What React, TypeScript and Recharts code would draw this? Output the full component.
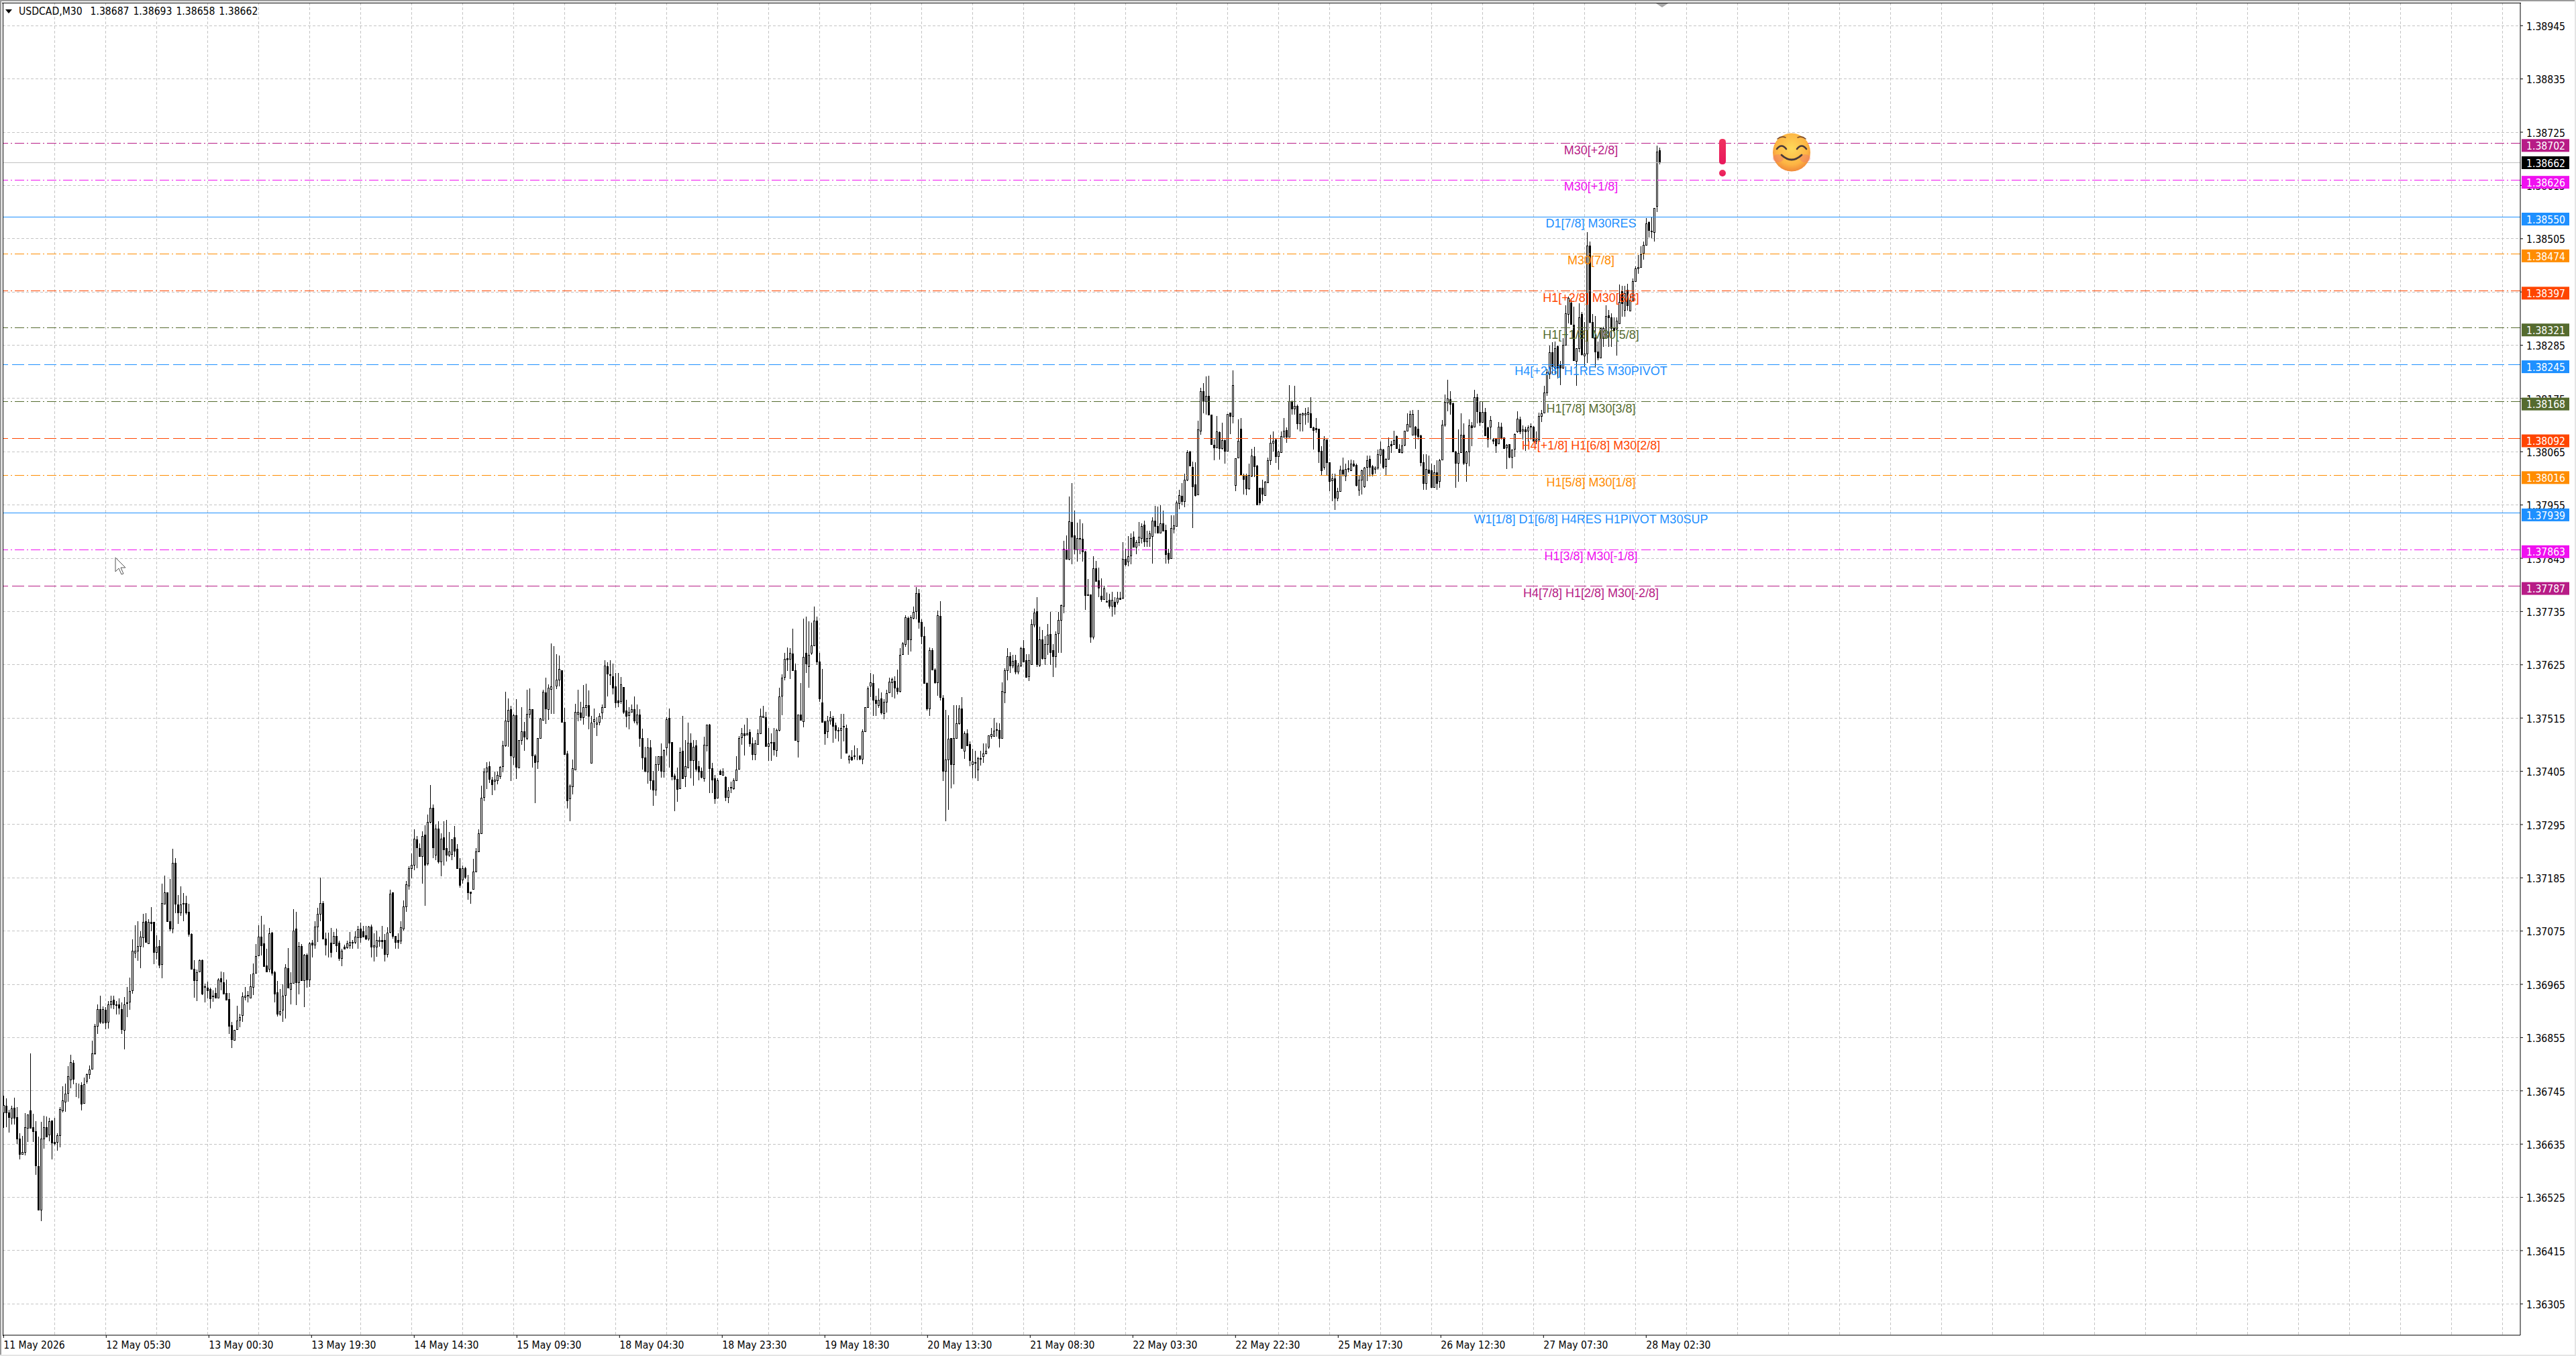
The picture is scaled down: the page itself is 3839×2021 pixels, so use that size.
import React from "react";
import { ComposedChart, Bar, XAxis, YAxis, CartesianGrid, ReferenceLine } from "recharts";

// Candles: [open, high, low, close] in points above 1.36000
const may11: number[][] = [[700,735,669,715],[714,730,670,701],[700,706,659,690],[689,714,675,709],[710,731,675,689],[691,712,635,646],[647,657,604,614],[615,652,613,619],[618,699,612,670],[669,696,639,696],[704,823,669,669],[670,698,640,662],[661,682,572,591],[590,650,499,499],[499,681,476,646],[646,693,625,670],[670,692,650,651],[654,689,641,682],[684,684,603,638],[640,689,632,637],[639,657,622,653],[653,712,628,707],[705,755,700,725],[723,760,702,739],[740,796,723,775],[768,820,750,804],[803,809,759,769],[754,761,732,755],[755,760,729,754],[757,763,704,719],[720,772,720,758],[766,781,760,780],[779,797,770,789],[790,848,790,822],[822,883,819,879],[879,923,862,914],[914,941,884,888],[888,919,884,914]];
const may12: number[][] = [[912,918,872,886],[888,930,874,923],[924,941,915,931],[933,941,914,924],[923,930,903,922],[923,936,903,916],[914,928,863,872],[871,939,831,924],[928,959,897,926],[929,979,913,951],[952,1058,946,1034],[1030,1087,1019,1035],[1034,1096,1013,1044],[1044,1075,998,1063],[1062,1110,1041,1094],[1095,1112,1051,1052],[1050,1099,1048,1094],[1094,1124,1074,1091],[1094,1094,1006,1031],[1031,1066,1017,1043],[1044,1057,998,1005],[1006,1173,978,1133],[1132,1190,1132,1155],[1155,1155,1096,1096],[1095,1182,1075,1080],[1080,1245,1071,1216],[1216,1226,1112,1131],[1130,1149,1090,1114],[1114,1167,1107,1130],[1132,1154,1096,1133],[1133,1148,1109,1114],[1115,1131,1063,1069],[1069,1070,997,997],[997,1015,937,974],[973,995,931,990],[992,1016,992,1015],[1015,1016,943,945],[961,967,928,959]];
const may13a: number[][] = [[958,971,936,952],[955,958,915,936],[942,953,929,940],[947,958,937,938],[937,978,936,975],[977,991,953,970],[969,990,944,945],[947,975,932,933],[934,947,863,879],[880,887,833,851],[850,871,849,871],[872,921,871,890],[892,904,877,897],[902,949,888,940],[939,960,932,942],[943,951,928,941],[938,986,937,961],[960,1008,943,987],[988,1048,988,1023],[1025,1087,1024,1063],[1063,1106,1025,1046],[1049,1089,1002,1002],[1004,1038,991,992],[997,1082,990,1071],[1072,1073,983,989],[990,993,928,946],[948,972,898,904],[904,955,900,910],[912,965,888,941],[943,1006,895,1000],[998,1040,958,958],[955,990,923,968],[968,1120,968,1076],[1080,1115,922,969],[969,1053,944,1044],[1044,1048,974,974],[974,1028,918,1026],[1026,1029,958,975]];
const may13b: number[][] = [[975,1052,960,1050],[1051,1057,1020,1047],[1047,1096,1038,1084],[1084,1123,1053,1111],[1110,1185,1096,1133],[1133,1137,1059,1059],[1059,1072,1025,1047],[1049,1072,1020,1050],[1051,1081,1020,1032],[1050,1073,1050,1065],[1065,1080,1032,1046],[1051,1055,1013,1019],[1019,1039,1003,1034],[1043,1047,1039,1039],[1041,1055,1038,1049],[1045,1073,1038,1053],[1052,1057,1038,1051],[1053,1075,1048,1064],[1062,1086,1038,1079],[1080,1092,1051,1062],[1074,1086,1062,1064],[1066,1085,1057,1059],[1059,1086,1055,1084],[1084,1089,1021,1042],[1043,1071,1012,1045],[1042,1076,1022,1057],[1054,1063,1042,1057],[1056,1086,1038,1054],[1056,1069,1012,1028],[1027,1083,1021,1072],[1073,1160,1071,1152],[1155,1155,1059,1065],[1065,1065,1038,1053],[1056,1071,1038,1053],[1055,1096,1048,1083],[1080,1138,1076,1126],[1126,1178,1115,1171],[1169,1209,1161,1205]];
const may14: number[][] = [[1205,1235,1184,1212],[1212,1285,1200,1266],[1264,1272,1205,1248],[1246,1256,1229,1230],[1230,1281,1173,1272],[1274,1293,1127,1212],[1214,1316,1210,1301],[1301,1376,1298,1329],[1330,1337,1226,1248],[1233,1295,1222,1286],[1286,1302,1214,1219],[1219,1277,1188,1266],[1268,1302,1210,1243],[1246,1304,1218,1233],[1233,1280,1229,1240],[1234,1265,1222,1265],[1268,1292,1229,1241],[1245,1255,1205,1205],[1205,1226,1164,1170],[1181,1210,1173,1205],[1205,1208,1182,1187],[1176,1191,1139,1155],[1156,1157,1132,1154],[1162,1224,1162,1198],[1198,1246,1198,1239],[1240,1285,1238,1277],[1277,1375,1277,1351],[1352,1411,1343,1404],[1404,1424,1369,1413],[1415,1425,1381,1389],[1388,1393,1356,1378],[1385,1404,1366,1388],[1387,1405,1378,1397],[1395,1416,1389,1414],[1415,1468,1403,1458],[1458,1569,1455,1510],[1508,1555,1455,1532],[1533,1540,1385,1438]];
const may15: number[][] = [[1435,1523,1418,1521],[1521,1554,1389,1414],[1413,1470,1413,1469],[1469,1537,1460,1488],[1488,1507,1447,1477],[1474,1573,1469,1524],[1523,1576,1515,1533],[1533,1533,1412,1438],[1437,1441,1339,1424],[1425,1473,1410,1473],[1474,1515,1473,1514],[1511,1573,1510,1569],[1568,1598,1503,1534],[1533,1584,1511,1577],[1575,1669,1523,1580],[1580,1663,1523,1580],[1582,1647,1575,1594],[1594,1644,1580,1616],[1613,1614,1507,1507],[1507,1536,1440,1440],[1442,1447,1328,1345],[1349,1378,1302,1375],[1374,1429,1357,1411],[1409,1545,1408,1528],[1523,1573,1508,1528],[1527,1549,1510,1516],[1516,1583,1501,1538],[1538,1586,1520,1541],[1541,1572,1492,1520],[1423,1520,1423,1505],[1508,1534,1494,1513],[1503,1517,1478,1506],[1507,1525,1500,1519],[1526,1543,1513,1537],[1538,1634,1536,1623],[1622,1630,1560,1607],[1606,1634,1583,1604],[1601,1627,1564,1577]];
const may18a: number[][] = [[1580,1608,1536,1547],[1551,1608,1538,1547],[1550,1600,1545,1584],[1579,1579,1524,1528],[1530,1552,1496,1520],[1521,1538,1492,1528],[1528,1543,1528,1533],[1533,1559,1504,1510],[1506,1543,1500,1522],[1522,1533,1456,1473],[1473,1493,1408,1433],[1434,1455,1403,1406],[1405,1474,1380,1454],[1454,1469,1367,1387],[1387,1406,1334,1367],[1367,1436,1354,1419],[1419,1436,1406,1436],[1436,1463,1392,1406],[1406,1450,1392,1449],[1454,1517,1437,1512],[1515,1534,1413,1464],[1465,1465,1386,1395],[1396,1400,1322,1389],[1389,1413,1342,1369],[1370,1454,1369,1445],[1447,1519,1390,1390],[1394,1469,1373,1415],[1413,1505,1412,1464],[1464,1483,1390,1428],[1428,1469,1375,1456],[1458,1469,1405,1410],[1415,1426,1386,1405],[1406,1413,1390,1393],[1391,1477,1383,1460],[1458,1502,1446,1501],[1502,1503,1360,1411],[1411,1423,1360,1388],[1391,1397,1338,1349]];
const may18b: number[][] = [[1350,1390,1349,1387],[1406,1408,1397,1399],[1397,1411,1396,1405],[1393,1395,1344,1352],[1352,1372,1339,1365],[1373,1383,1360,1371],[1370,1390,1367,1387],[1386,1436,1386,1409],[1410,1478,1408,1474],[1475,1495,1460,1483],[1483,1502,1438,1479],[1481,1515,1480,1484],[1486,1492,1456,1462],[1463,1475,1428,1440],[1440,1469,1428,1463],[1461,1492,1460,1484],[1483,1534,1482,1519],[1516,1540,1515,1519],[1516,1528,1456,1457],[1457,1495,1426,1463],[1464,1483,1426,1465],[1466,1494,1438,1450],[1449,1493,1435,1490],[1490,1578,1487,1560],[1561,1605,1521,1599],[1600,1649,1593,1637],[1638,1661,1612,1636],[1637,1659,1595,1650],[1648,1700,1613,1614],[1614,1627,1469,1469],[1467,1522,1434,1522],[1522,1587,1511,1511],[1508,1720,1496,1642],[1650,1725,1608,1628],[1622,1715,1577,1645],[1649,1712,1645,1665],[1665,1745,1663,1716],[1716,1725,1625,1631]];
const may19: number[][] = [[1632,1649,1548,1556],[1547,1616,1507,1507],[1508,1510,1460,1483],[1488,1520,1474,1510],[1510,1529,1501,1516],[1515,1519,1464,1498],[1500,1506,1472,1490],[1490,1496,1467,1489],[1490,1523,1431,1495],[1497,1523,1467,1498],[1494,1501,1442,1443],[1429,1439,1421,1436],[1435,1449,1427,1430],[1436,1458,1429,1437],[1430,1453,1428,1429],[1437,1438,1428,1431],[1431,1491,1419,1487],[1488,1537,1488,1537],[1538,1580,1536,1576],[1582,1608,1558,1589],[1587,1606,1519,1553],[1552,1561,1519,1546],[1542,1576,1536,1553],[1555,1568,1522,1526],[1525,1554,1513,1548],[1549,1573,1526,1567],[1568,1598,1566,1590],[1589,1598,1558,1596],[1592,1601,1556,1577],[1577,1615,1564,1571],[1571,1660,1568,1646],[1647,1672,1645,1669],[1667,1727,1662,1723],[1722,1725,1645,1678],[1677,1727,1652,1723],[1722,1745,1719,1734],[1735,1786,1719,1773],[1773,1781,1699,1714]];
const may20: number[][] = [[1713,1719,1668,1684],[1684,1704,1586,1587],[1587,1588,1531,1535],[1535,1661,1519,1655],[1655,1660,1615,1615],[1615,1618,1586,1589],[1589,1737,1561,1727],[1726,1756,1551,1558],[1557,1562,1385,1406],[1406,1532,1302,1430],[1430,1521,1325,1472],[1474,1474,1370,1420],[1420,1541,1378,1474],[1474,1541,1474,1504],[1504,1541,1501,1534],[1534,1558,1452,1453],[1448,1487,1431,1483],[1483,1492,1459,1459],[1461,1467,1415,1428],[1419,1451,1391,1425],[1424,1447,1390,1422],[1409,1435,1385,1432],[1432,1447,1417,1431],[1436,1462,1422,1442],[1442,1462,1440,1447],[1456,1479,1451,1479],[1478,1494,1472,1482],[1478,1515,1477,1489],[1491,1506,1477,1490],[1490,1504,1454,1474],[1474,1588,1474,1571],[1568,1618,1546,1614],[1614,1659,1593,1643],[1643,1651,1608,1624],[1623,1645,1618,1633],[1634,1645,1606,1611],[1611,1629,1605,1624],[1623,1662,1620,1659]];
const may21a: number[][] = [[1660,1676,1630,1632],[1634,1647,1598,1600],[1601,1647,1592,1634],[1626,1719,1625,1709],[1708,1741,1702,1733],[1735,1764,1620,1626],[1625,1704,1620,1677],[1677,1697,1636,1639],[1639,1684,1625,1667],[1668,1709,1645,1687],[1688,1734,1625,1651],[1655,1667,1600,1643],[1643,1694,1619,1689],[1690,1734,1650,1717],[1718,1749,1650,1748],[1747,1881,1731,1864],[1863,1892,1843,1844],[1843,1972,1841,1921],[1920,2000,1832,1890],[1892,1944,1853,1863],[1863,1919,1838,1886],[1885,1925,1853,1886],[1885,1917,1838,1859],[1859,1860,1739,1769],[1769,1802,1768,1770],[1770,1770,1671,1683],[1683,1849,1677,1824],[1824,1839,1798,1798],[1799,1826,1764,1784],[1767,1803,1755,1761],[1761,1788,1760,1783],[1757,1774,1754,1755],[1759,1772,1741,1747],[1747,1776,1725,1759],[1755,1764,1729,1745],[1755,1776,1749,1763],[1763,1776,1760,1761],[1763,1878,1760,1843]];
const may21b: number[][] = [[1843,1865,1828,1833],[1838,1891,1828,1849],[1850,1897,1833,1887],[1889,1900,1867,1868],[1869,1882,1854,1879],[1878,1920,1870,1889],[1886,1917,1875,1912],[1914,1923,1868,1880],[1880,1902,1868,1887],[1886,1902,1869,1896],[1891,1930,1834,1923],[1923,1953,1897,1912],[1911,1952,1897,1898],[1898,1954,1897,1917],[1917,1943,1900,1902],[1903,1915,1834,1854],[1856,1864,1834,1844],[1845,1934,1844,1908],[1906,1934,1897,1913],[1912,1964,1912,1960],[1959,1987,1946,1975],[1974,2000,1954,1963],[1963,2019,1950,2007],[2007,2068,2005,2064],[2065,2067,2035,2036],[2033,2044,1907,1993],[1998,2043,1973,1976],[1977,2129,1977,2111],[2108,2197,2100,2190],[2190,2207,2144,2170],[2169,2220,2141,2181],[2181,2222,2141,2142],[2142,2142,2079,2080],[2079,2090,2047,2074],[2074,2139,2073,2107],[2106,2107,2049,2072],[2072,2125,2070,2089],[2089,2090,2040,2067]];
const may22: number[][] = [[2067,2143,2065,2143],[2146,2146,2102,2139],[2139,2233,2124,2202],[1996,2051,1984,2051],[2053,2132,2052,2087],[2113,2135,2016,2018],[2017,2019,1977,2008],[2017,2019,1975,1989],[1989,2040,1987,2017],[2016,2071,2013,2057],[2056,2075,2013,2035],[2036,2037,1954,1956],[1990,1991,1954,1960],[1991,2007,1963,1978],[1976,2005,1975,2003],[2001,2053,2000,2047],[2047,2100,2038,2084],[2084,2107,2065,2088],[2091,2093,2042,2056],[2056,2067,2028,2066],[2064,2107,2064,2097],[2096,2134,2095,2109],[2110,2115,2084,2096],[2096,2203,2095,2169],[2169,2171,2141,2154],[2154,2201,2141,2160],[2160,2162,2111,2124],[2124,2144,2107,2143],[2141,2146,2107,2144],[2141,2155,2121,2144],[2143,2157,2125,2147],[2145,2177,2114,2115],[2115,2116,2069,2110],[2114,2134,2104,2111],[2112,2112,2042,2065],[2067,2077,2017,2026],[2033,2097,2028,2090],[2090,2090,2016,2043]];
const may25: number[][] = [[2043,2043,1984,2005],[2006,2019,1963,2010],[2010,2019,1945,1970],[1970,1991,1963,1984],[1984,2036,1983,2028],[2028,2053,2014,2019],[2016,2040,2005,2030],[2029,2047,2023,2031],[2027,2049,2026,2041],[2041,2047,2033,2036],[2038,2040,1993,1996],[1987,2016,1974,2007],[2007,2028,1977,2026],[1994,2033,1991,2032],[2033,2057,2005,2047],[2050,2057,2014,2033],[2035,2037,2014,2020],[2029,2035,2019,2032],[2032,2070,2028,2060],[2059,2086,2040,2071],[2070,2071,2029,2033],[2035,2051,2016,2050],[2050,2094,2049,2077],[2080,2088,2063,2078],[2080,2109,2079,2089],[2097,2098,2071,2072],[2071,2081,2063,2064],[2064,2093,2061,2078],[2079,2109,2077,2108],[2108,2144,2107,2122],[2117,2150,2116,2143],[2100,2152,2100,2143],[2116,2118,2071,2100],[2113,2152,2090,2097],[2099,2100,2035,2043],[2043,2060,1986,2000],[2000,2060,1986,2029],[2028,2057,2021,2021]];
const may26: number[][] = [[2027,2040,1992,1992],[1992,2038,1992,2022],[2023,2047,1986,2000],[2004,2050,1991,2048],[2049,2130,2047,2121],[2121,2183,2116,2168],[2166,2213,2149,2175],[2174,2190,2141,2164],[2165,2167,2065,2065],[2065,2067,1991,2042],[2042,2111,2003,2063],[2064,2145,2063,2100],[2100,2123,2037,2042],[2042,2067,2003,2066],[2065,2132,2035,2119],[2120,2127,2077,2115],[2116,2193,2115,2178],[2178,2185,2124,2148],[2147,2169,2118,2126],[2127,2169,2127,2147],[2147,2155,2097,2098],[2115,2116,2074,2092],[2116,2139,2090,2131],[2090,2093,2081,2087],[2092,2093,2063,2078],[2082,2127,2081,2117],[2117,2125,2090,2095],[2094,2095,2072,2073],[2074,2081,2029,2079],[2080,2081,2051,2054],[2054,2070,2031,2069],[2071,2103,2054,2101],[2107,2149,2104,2133],[2132,2138,2102,2107],[2108,2120,2090,2111],[2111,2116,2067,2107],[2108,2120,2086,2115],[2118,2123,2090,2116]];
const may27: number[][] = [[2117,2118,2088,2088],[2088,2107,2081,2091],[2090,2146,2088,2139],[2139,2151,2127,2145],[2146,2201,2145,2188],[2188,2236,2181,2229],[2226,2284,2215,2271],[2270,2291,2226,2242],[2238,2293,2226,2279],[2283,2284,2217,2238],[2245,2252,2203,2238],[2238,2300,2236,2286],[2286,2367,2286,2351],[2350,2386,2330,2383],[2373,2381,2328,2329],[2328,2365,2252,2254],[2252,2279,2201,2279],[2279,2372,2270,2343],[2349,2353,2264,2266],[2264,2333,2242,2268],[2268,2519,2249,2491],[2491,2499,2330,2333],[2333,2349,2300,2301],[2301,2346,2238,2272],[2272,2293,2254,2259],[2260,2321,2259,2321],[2300,2323,2281,2321],[2300,2367,2300,2346],[2347,2358,2281,2342],[2342,2351,2281,2321],[2321,2342,2312,2316],[2319,2342,2263,2336],[2330,2411,2330,2374],[2397,2407,2344,2372],[2358,2407,2344,2393],[2400,2412,2356,2367],[2356,2388,2356,2379],[2379,2423,2379,2418]];
const may28: number[][] = [[2417,2448,2416,2444],[2444,2471,2432,2447],[2447,2490,2447,2473],[2475,2499,2462,2492],[2492,2548,2492,2537],[2539,2541,2508,2523],[2522,2550,2506,2520],[2519,2568,2499,2568],[2573,2697,2560,2685],[2687,2693,2658,2662]];

const priceBase = 1.36;
const priceTicks = [1.38945,1.38835,1.38725,1.38615,1.38505,1.38395,1.38285,1.38175,1.38065,1.37955,1.37845,1.37735,1.37625,1.37515,1.37405,1.37295,1.37185,1.37075,1.36965,1.36855,1.36745,1.36635,1.36525,1.36415,1.36305];
const timeLabels = ["11 May 2026","12 May 05:30","13 May 00:30","13 May 19:30","14 May 14:30","15 May 09:30","18 May 04:30","18 May 23:30","19 May 18:30","20 May 13:30","21 May 08:30","22 May 03:30","22 May 22:30","25 May 17:30","26 May 12:30","27 May 07:30","28 May 02:30"];
const timeBars = [0,38.25,76.5,114.75,153,191.25,229.5,267.75,306,344.25,382.5,420.75,459,497.25,535.5,573.75,612];
const gridBars = [19,38,57,76,95,114,133,152,171,190,209,228,247,266,285,304,323,342,361,380,399,418,437,456,475,494,513,532,551,570,589,608,627,646,665,684,703,722,741,760,779,798,817,836,855,874,893,912,931];

const levelPrices = [1.38702,1.38626,1.3855,1.38474,1.38397,1.38321,1.38245,1.38168,1.38092,1.38016,1.37939,1.37863,1.37787];
const levelNames = ["M30[+2/8]","M30[+1/8]","D1[7/8] M30RES","M30[7/8]","H1[+2/8] M30[6/8]","H1[+1/8] M30[5/8]","H4[+2/8] H1RES M30PIVOT","H1[7/8] M30[3/8]","H4[+1/8] H1[6/8] M30[2/8]","H1[5/8] M30[1/8]","W1[1/8] D1[6/8] H4RES H1PIVOT M30SUP","H1[3/8] M30[-1/8]","H4[7/8] H1[2/8] M30[-2/8]"];
const levelColors = ["#B71C86","#F010F0","#1E90FF","#FF8C00","#FF4500","#556B2F","#1E90FF","#556B2F","#FF4500","#FF8C00","#1E90FF","#F010F0","#B71C86"];
const levelDashes = ["14 4 2 4","14 4 2 4","","14 4 2 4","14 4 2 4","14 4 2 4","18 6","14 4 2 4","18 6","14 4 2 4","","14 4 2 4","18 6"];
const lastPrice = 1.38662;
const title = "USDCAD,M30  1.38687 1.38693 1.38658 1.38662";

const rows = [...may11,...may12,...may13a,...may13b,...may14,...may15,...may18a,...may18b,...may19,...may20,...may21a,...may21b,...may22,...may25,...may26,...may27,...may28];
const toPrice = (p: number) => priceBase + p / 100000;
const candles = rows.map((r, i) => ({ i, o: toPrice(r[0]), h: toPrice(r[1]), l: toPrice(r[2]), c: toPrice(r[3]) }));

const xDomain = [-0.325, 937.675];
const yDomain = [1.362403, 1.389925];
const axisFont = "'DejaVu Sans Condensed','Noto Sans',sans-serif";
const levelFont = "'Liberation Sans',Arial,sans-serif";

function Candle(props: any) {
  const { x, y, width, height, payload } = props;
  const cx = Math.round(x + width / 2) + 0.5;
  const k = height / (payload.h - payload.l);
  const yO = Math.round(y + (payload.h - payload.o) * k) + 0.5;
  const yC = Math.round(y + (payload.h - payload.c) * k) + 0.5;
  const up = payload.c >= payload.o;
  return (
    <g shapeRendering="crispEdges">
      <line x1={cx} x2={cx} y1={Math.round(y)} y2={Math.round(y + height)} stroke="#000" strokeWidth={1} />
      <rect x={cx - 1} y={Math.min(yO, yC)} width={2} height={Math.abs(yO - yC)} fill={up ? "#fff" : "#000"} stroke="#000" strokeWidth={1} />
    </g>
  );
}

function PriceTick(props: any) {
  const { x, y, payload } = props;
  return (
    <text x={x} y={y + 6.7} fontFamily={axisFont} fontSize={15.6} fill="#000">
      {Number(payload.value).toFixed(5)}
    </text>
  );
}

function TimeTick(props: any) {
  const { x, y, payload } = props;
  const label = timeLabels[timeBars.indexOf(payload.value)];
  return (
    <text x={x} y={y + 15.5} fontFamily={axisFont} fontSize={15.6} fill="#000">
      {label}
    </text>
  );
}

function Tag(props: { vb: any; color: string; text: string; top: number }) {
  const { vb, color, text, top } = props;
  const ly = vb.y;
  return (
    <g>
      <rect x={3758} y={ly - top} width={71} height={19} fill={color} />
      <text x={3765} y={ly - top + 15.7} fontFamily={axisFont} fontSize={15.6} fill="#fff">{text}</text>
    </g>
  );
}

export default function App() {
  return (
    <div style={{ position: "absolute", left: 0, top: 0, width: 3839, height: 2021, background: "#fff", overflow: "hidden" }}>
      <ComposedChart width={3839} height={2021} data={candles} margin={{ top: 4, right: 0, bottom: 0, left: 4 }}>
        <CartesianGrid
          stroke="#C4C4C4"
          strokeDasharray="4 3"
          shapeRendering="crispEdges"
          verticalValues={gridBars}
          horizontalValues={priceTicks}
        />
        <XAxis
          dataKey="i"
          type="number"
          scale="linear"
          domain={xDomain}
          allowDataOverflow
          ticks={timeBars}
          interval={0}
          height={31}
          tickSize={4}
          tickMargin={0}
          stroke="#000"
          tick={<TimeTick />}
        />
        <YAxis
          orientation="right"
          type="number"
          domain={yDomain}
          allowDataOverflow
          ticks={priceTicks}
          interval={0}
          width={83}
          tickSize={4}
          tickMargin={5}
          stroke="#000"
          tick={<PriceTick />}
        />
        <Bar dataKey={(d: any) => [d.l, d.h]} barSize={3} isAnimationActive={false} shape={<Candle />} />
        <ReferenceLine y={lastPrice} stroke="#C0C0C0" strokeWidth={1} shapeRendering="crispEdges" />
        {levelPrices.map((v, n) => (
          <ReferenceLine
            key={v}
            y={v}
            stroke={levelColors[n]}
            strokeWidth={1}
            strokeDasharray={levelDashes[n]}
            shapeRendering="crispEdges"
            label={{
              content: (p: any) => (
                <text x={2371} y={p.viewBox.y + 16} textAnchor="middle" fontFamily={levelFont} fontSize={18} fill={levelColors[n]}>
                  {levelNames[n]}
                </text>
              ),
            }}
          />
        ))}
      </ComposedChart>

      {/* price tags sit on top of the axis labels, so they get their own layer with the same scales */}
      <div style={{ position: "absolute", left: 0, top: 0 }}>
        <ComposedChart width={3839} height={2021} data={candles} margin={{ top: 4, right: 83, bottom: 31, left: 4 }}>
          <XAxis dataKey="i" type="number" scale="linear" domain={xDomain} allowDataOverflow hide />
          <YAxis type="number" domain={yDomain} allowDataOverflow hide />
          <ReferenceLine
            y={lastPrice}
            stroke="none"
            label={{ content: (p: any) => <Tag vb={p.viewBox} color="#000" text={lastPrice.toFixed(5)} top={9.5} /> }}
          />
          {levelPrices.map((v, n) => (
            <ReferenceLine
              key={v}
              y={v}
              stroke="none"
              label={{ content: (p: any) => <Tag vb={p.viewBox} color={levelColors[n]} text={v.toFixed(5)} top={6.3} /> }}
            />
          ))}
        </ComposedChart>
      </div>

      {/* window frame and the plot's upper and left border */}
      <div style={{ position: "absolute", left: 0, top: 0, width: 3839, height: 2, background: "#9a9a9a" }} />
      <div style={{ position: "absolute", left: 0, top: 0, width: 2, height: 2021, background: "#9a9a9a" }} />
      <div style={{ position: "absolute", left: 3, top: 4, width: 3754, height: 1, background: "#000" }} />
      <div style={{ position: "absolute", left: 4, top: 4, width: 1, height: 1987, background: "#000" }} />
      <div style={{ position: "absolute", left: 0, top: 2019, width: 3839, height: 2, background: "#e4e4e4" }} />
      <div style={{ position: "absolute", left: 3837, top: 0, width: 2, height: 2021, background: "#e4e4e4" }} />

      {/* header */}
      <div style={{ position: "absolute", left: 8, top: 14, width: 0, height: 0, borderLeft: "5px solid transparent", borderRight: "5px solid transparent", borderTop: "6px solid #000" }} />
      <div style={{ position: "absolute", left: 28, top: 7, fontFamily: axisFont, fontSize: 15.6, lineHeight: "20px", whiteSpace: "pre", wordSpacing: "1.5px", color: "#000" }}>{title}</div>

      {/* chart shift marker, mouse pointer and the two stickers */}
      <svg width={3839} height={2021} style={{ position: "absolute", left: 0, top: 0, pointerEvents: "none" }}>
        <defs>
          <radialGradient id="face" cx="50%" cy="40%" r="60%">
            <stop offset="0%" stopColor="#FFD95A" />
            <stop offset="70%" stopColor="#FDB544" />
            <stop offset="100%" stopColor="#F08A3A" />
          </radialGradient>
          <linearGradient id="bang" x1="0" y1="0" x2="0" y2="1">
            <stop offset="0%" stopColor="#F0315F" />
            <stop offset="100%" stopColor="#E8185C" />
          </linearGradient>
        </defs>
        <polygon points="2468,5 2486,5 2477,11" fill="#A8A8A8" />
        <path d="M172,831 L172,852 L177,847 L181,856 L184,855 L180,846 L187,846 Z" fill="#fff" stroke="#555" strokeWidth={1} />
        <rect x={2562} y={207} width={10} height={38} rx={4.5} fill="url(#bang)" />
        <circle cx={2567} cy={258} r={5} fill="url(#bang)" />
        <ellipse cx={2670} cy={227} rx={28} ry={28.5} fill="url(#face)" />
        <ellipse cx={2650} cy={236} rx={8} ry={6} fill="#F0796A" opacity={0.45} />
        <ellipse cx={2690} cy={236} rx={8} ry={6} fill="#F0796A" opacity={0.45} />
        <path d="M2648,222 Q2655,213 2662,222" fill="none" stroke="#4A3A3A" strokeWidth={2.6} strokeLinecap="round" />
        <path d="M2678,222 Q2685,213 2692,222" fill="none" stroke="#4A3A3A" strokeWidth={2.6} strokeLinecap="round" />
        <path d="M2655,231 Q2670,245 2685,231" fill="none" stroke="#4A3A3A" strokeWidth={2.8} strokeLinecap="round" />
        <path d="M2649,207 Q2655,202 2661,205" fill="none" stroke="#7A4A2A" strokeWidth={1.6} strokeLinecap="round" />
        <path d="M2679,205 Q2685,202 2691,207" fill="none" stroke="#7A4A2A" strokeWidth={1.6} strokeLinecap="round" />
      </svg>
    </div>
  );
}
